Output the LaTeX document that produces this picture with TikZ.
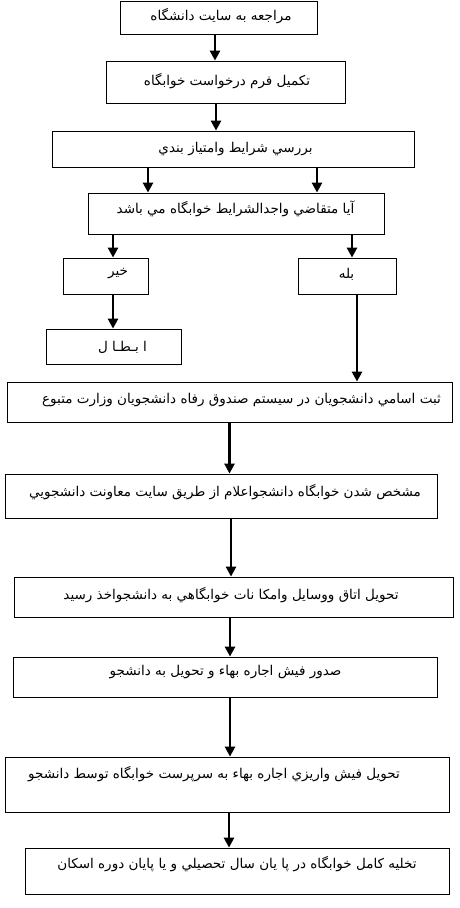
\documentclass[tikz,border=0pt]{standalone}
\usepackage{fontspec}
\newfontfamily\farsi[Script=Arabic]{DejaVu Sans}
\TeXXeTstate=1
\usetikzlibrary{arrows.meta}
\newcommand{\rtl}[1]{\beginR #1\endR}

\begin{document}
\begin{tikzpicture}[x=1pt, y=-1pt,
  box/.style={draw, line width=0.8pt, inner sep=0pt},
  fa/.style={font=\farsi\fontsize{13.5}{15}\selectfont, inner sep=0pt, yshift=-1pt},
  arr/.style={line width=2.8pt, -{Triangle[length=10pt,width=10pt]}}]
\useasboundingbox (0,0) rectangle (460,908);

% boxes
\node[box, minimum width=197pt, minimum height=33pt] (b1) at (218.5,17.5) {};
\node[fa, xshift=2.5pt, yshift=2.5pt] (t1) at (b1.center) {\rtl{مراجعه به سايت دانشگاه}};
\node[box, minimum width=239pt, minimum height=42pt] (b2) at (225.5,82) {};
\node[fa, xshift=1.5pt, yshift=2pt] (t2) at (b2.center) {\rtl{تكميل فرم درخواست خوابگاه}};
\node[box, minimum width=362pt, minimum height=36pt] (b3) at (233,149) {};
\node[fa, xshift=2.5pt, yshift=1pt] (t3) at (b3.center) {\rtl{بررسي شرايط وامتياز بندي}};
\node[box, minimum width=296pt, minimum height=41pt] (b4) at (236,213.5) {};
\node[fa, xshift=-0.5pt, yshift=5.5pt] (t4) at (b4.center) {\rtl{آيا متقاضي واجدالشرايط  خوابگاه مي باشد}};

\node[box, minimum width=85pt, minimum height=36pt] (no) at (105.5,276) {};
\node[fa, xshift=12.5pt, yshift=3pt] (tno) at (no.center) {\rtl{خير}};
\node[box, minimum width=98pt, minimum height=36pt] (yes) at (347,276) {};
\node[fa, xshift=-0.5pt, yshift=3pt] (tyes) at (yes.center) {\rtl{بله}};
\node[box, minimum width=135pt, minimum height=35pt] (cancel) at (113.5,346.5) {};
\node[fa, xshift=9pt, yshift=0.5pt] (tcancel) at (cancel.center) {\rtl{ا بـطـا ل}};

\node[box, minimum width=445pt, minimum height=40pt] (b8) at (229.5,402) {};
\node[fa, xshift=12pt, yshift=3pt] (t8) at (b8.center) {\rtl{ثبت اسامي دانشجويان در سيستم صندوق رفاه دانشجويان وزارت متبوع}};
\node[box, minimum width=432pt, minimum height=44pt] (b9) at (221,496) {};
\node[fa, xshift=4pt, yshift=5pt] (t9) at (b9.center) {\rtl{مشخص شدن خوابگاه دانشجواعلام از طريق سايت معاونت  دانشجويي}};
\node[box, minimum width=439pt, minimum height=40pt] (b10) at (233.5,597) {};
\node[fa, xshift=-2.5pt, yshift=3pt] (t10) at (b10.center) {\rtl{تحويل اتاق ووسايل وامكا نات خوابگاهي به دانشجواخذ رسيد}};
\node[box, minimum width=424pt, minimum height=40pt] (b11) at (225,677) {};
\node[fa, xshift=0.5pt, yshift=6pt] (t11) at (b11.center) {\rtl{صدور فيش اجاره بهاء و تحويل به دانشجو}};
\node[box, minimum width=444pt, minimum height=55pt] (b12) at (227,784.5) {};
\node[fa, xshift=-13pt, yshift=11.5pt] (t12) at (b12.center) {\rtl{تحويل فيش واريزي اجاره بهاء به سرپرست خوابگاه  توسط  دانشجو}};
\node[box, minimum width=424pt, minimum height=46pt] (b13) at (237,871) {};
\node[fa, yshift=8pt] (t13) at (b13.center) {\rtl{تخليه كامل خوابگاه در پا يان سال تحصيلي و يا پايان دوره اسكان}};

% arrows
\draw[arr] ([xshift=-3.5pt]b1.south) -- ([xshift=-3.5pt]b1.south |- b2.north);
\draw[arr] ([xshift=-9.5pt]b2.south) -- ([xshift=-9.5pt]b2.south |- b3.north);
\draw[arr] ([xshift=-85pt]b3.south) -- ([xshift=-85pt]b3.south |- b4.north);
\draw[arr] ([xshift=84pt]b3.south) -- ([xshift=84pt]b3.south |- b4.north);
\draw[arr] ([xshift=-123pt]b4.south) -- ([xshift=-123pt]b4.south |- no.north);
\draw[arr] ([xshift=116pt]b4.south) -- ([xshift=116pt]b4.south |- yes.north);
\draw[arr] ([xshift=7.5pt]no.south) -- ([xshift=7.5pt]no.south |- cancel.north);
\draw[arr] ([xshift=10pt]yes.south) -- ([xshift=10pt]yes.south |- b8.north);
\draw[arr] (b8.south) -- (b8.south |- b9.north);
\draw[arr] ([xshift=10pt]b9.south) -- ([xshift=10pt]b9.south |- b10.north);
\draw[arr] ([xshift=-3.5pt]b10.south) -- ([xshift=-3.5pt]b10.south |- b11.north);
\draw[arr] ([xshift=5pt]b11.south) -- ([xshift=5pt]b11.south |- b12.north);
\draw[arr] ([xshift=2pt]b12.south) -- ([xshift=2pt]b12.south |- b13.north);
\end{tikzpicture}
\end{document}
